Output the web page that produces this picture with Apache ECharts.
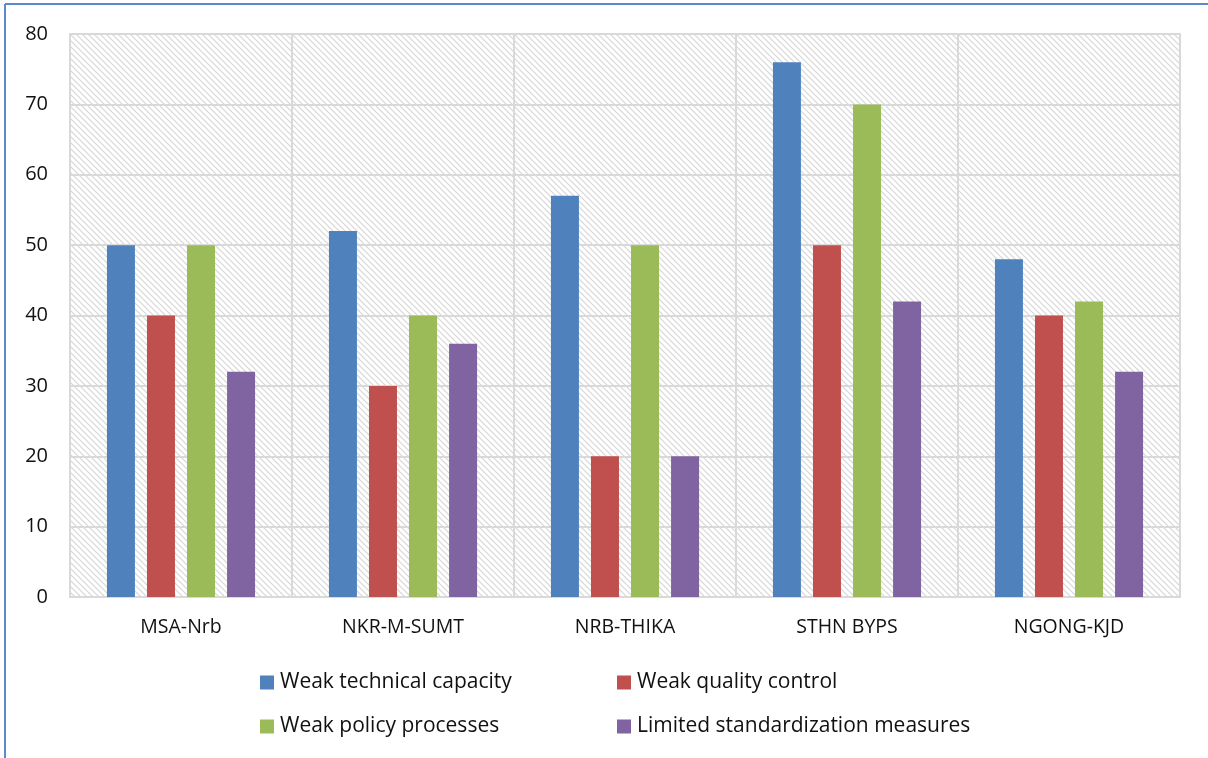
<!DOCTYPE html>
<html>
<head>
<meta charset="utf-8">
<script src="https://cdn.jsdelivr.net/npm/echarts@6/dist/echarts.min.js"></script>
<style>
  html, body { margin: 0; padding: 0; background: #fff; }
  #chart { width: 1208px; height: 758px; }
</style>
</head>
<body>
<div id="chart"></div>
<script>
// Road corridors and the share of respondents citing each weakness
const categories = ['MSA-Nrb', 'NKR-M-SUMT', 'NRB-THIKA', 'STHN BYPS', 'NGONG-KJD'];
const technicalCapacity = [50, 52, 57, 76, 48];
const qualityControl = [40, 30, 20, 50, 40];
const policyProcesses = [50, 40, 50, 70, 42];
const standardization = [32, 36, 20, 42, 32];
const seriesNames = ['Weak technical capacity', 'Weak quality control', 'Weak policy processes', 'Limited standardization measures'];
const colors = ['#4F81BD', '#C0504D', '#9BBB59', '#8064A2'];

// diagonal hatch tile for the plot background
function hatchTile() {
  const s = 6;
  const c = document.createElement('canvas');
  c.width = s; c.height = s;
  const g = c.getContext('2d');
  g.fillStyle = '#ffffff';
  g.fillRect(0, 0, s, s);
  g.strokeStyle = '#d6d6d6';
  g.lineWidth = 1.2;
  g.beginPath();
  g.moveTo(-1, -1); g.lineTo(s + 1, s + 1);
  g.moveTo(-1, s - 1); g.lineTo(1, s + 1);
  g.moveTo(s - 1, -1); g.lineTo(s + 1, 1);
  g.stroke();
  return c;
}

const font = '"Open Sans", "Liberation Sans", sans-serif';
const data = [technicalCapacity, qualityControl, policyProcesses, standardization];

const legendPos = [
  { left: 255, top: 667 },
  { left: 612, top: 667 },
  { left: 255, top: 711 },
  { left: 612, top: 711 }
];

const chart = echarts.init(document.getElementById('chart'));
chart.setOption({
  animation: false,
  backgroundColor: '#ffffff',
  grid: {
    left: 70, right: 28, top: 34, bottom: 161,
    show: true,
    backgroundColor: { image: hatchTile(), repeat: 'repeat' },
    borderColor: '#d9d9d9',
    borderWidth: 2
  },
  legend: seriesNames.map((n, i) => ({
    data: [n],
    left: legendPos[i].left,
    top: legendPos[i].top,
    itemWidth: 14,
    itemHeight: 14,
    icon: 'rect',
    itemGap: 6,
    textStyle: { fontFamily: font, fontSize: 21, color: '#111', padding: [0, 0, 0, 1] }
  })),
  xAxis: {
    type: 'category',
    data: categories,
    axisLine: { show: true, lineStyle: { color: '#d9d9d9', width: 2 } },
    axisTick: { show: false },
    splitLine: { show: true, lineStyle: { color: '#d9d9d9', width: 2 } },
    axisLabel: { fontFamily: font, fontSize: 19.5, color: '#111', margin: 20 }
  },
  yAxis: {
    type: 'value',
    min: 0, max: 80, interval: 10,
    axisLine: { show: false },
    axisTick: { show: false },
    splitLine: { show: true, lineStyle: { color: '#d9d9d9', width: 2 } },
    axisLabel: { fontFamily: font, fontSize: 20, color: '#111', margin: 22 }
  },
  graphic: [
    { type: 'line', shape: { x1: 5, y1: 4, x2: 5, y2: 758 }, style: { stroke: '#5B8BCB', lineWidth: 2 } },
    { type: 'line', shape: { x1: 5, y1: 4, x2: 1208, y2: 4 }, style: { stroke: '#5B8BCB', lineWidth: 2 } }
  ],
  series: seriesNames.map((n, i) => ({
    name: n,
    type: 'bar',
    data: data[i],
    barWidth: 28,
    barGap: '43%',
    itemStyle: { color: colors[i] }
  }))
});
</script>
</body>
</html>
